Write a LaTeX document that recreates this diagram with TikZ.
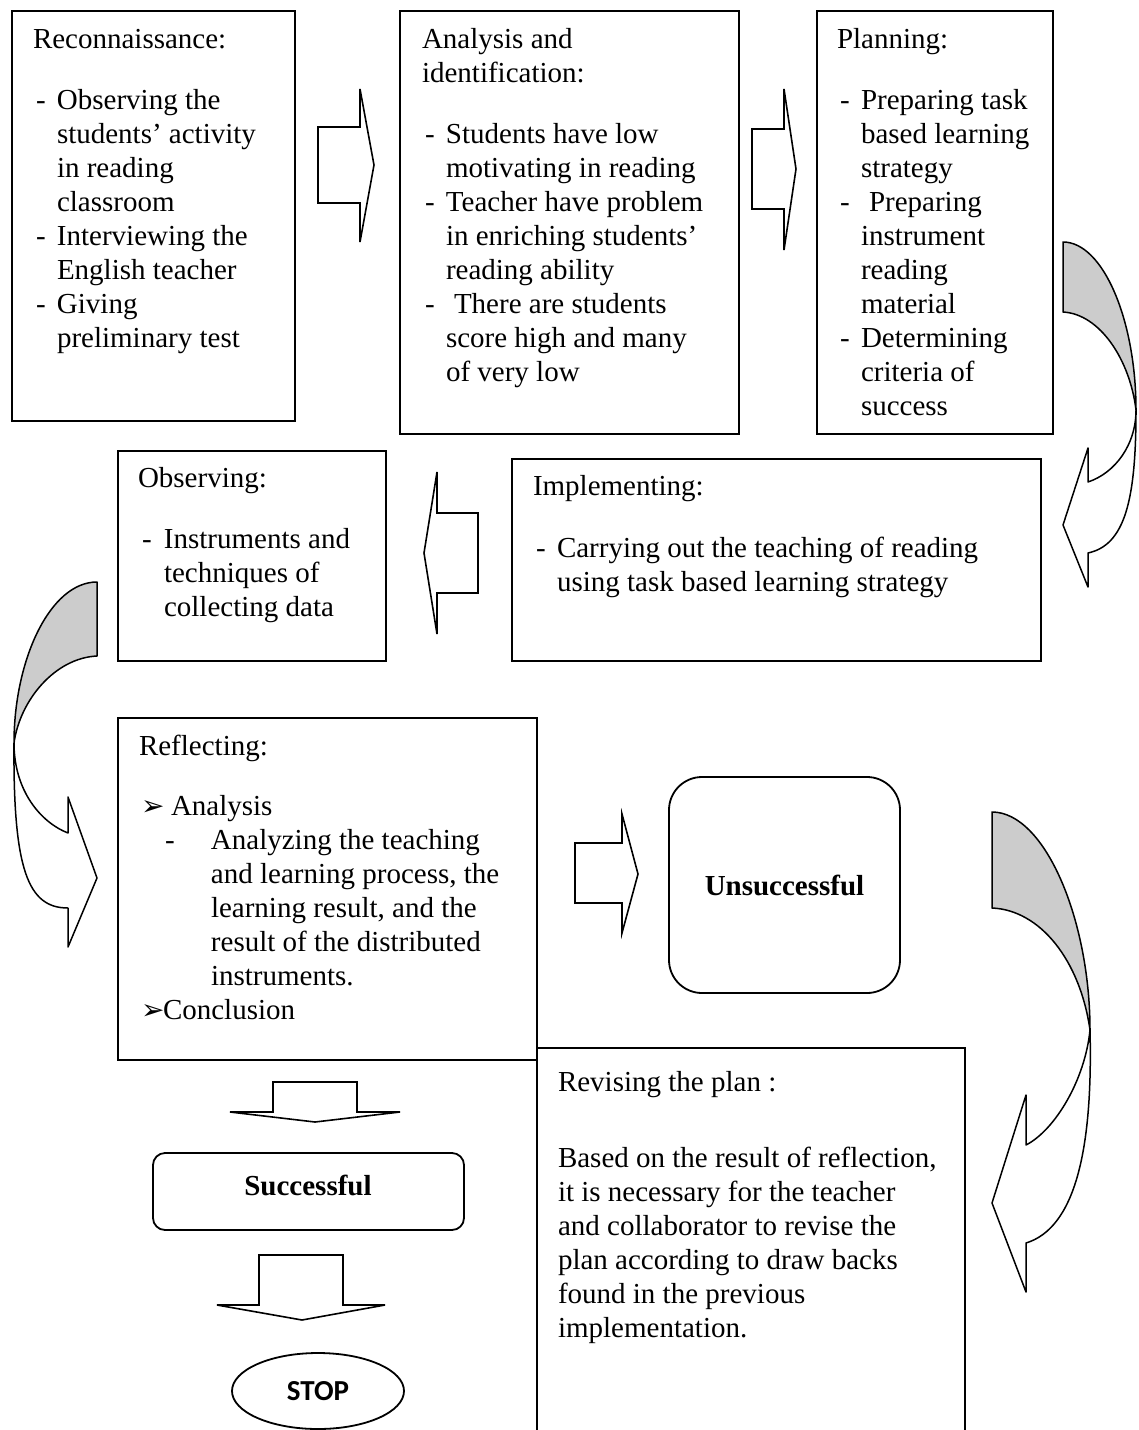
\documentclass[tikz,border=0pt]{standalone}
\usepackage{fontspec}
\setmainfont{Liberation Serif}
\newfontfamily\dejavu{DejaVu Sans}
\newfontfamily\carlito{Carlito}
\usetikzlibrary{shapes.geometric}
\definecolor{shadegray}{RGB}{204,204,204}
\newcommand{\dsh}{\makebox[12pt][l]{\hspace{1.5pt}-}}
\newcommand{\ind}{\hspace*{12pt}}
\newcommand{\arrbul}{{\fontsize{14}{14}\dejavu ➢}}
\newcommand{\boxtext}[2]{\parbox[t]{#1}{\fontsize{14.5}{17}\selectfont\lineskiplimit=-30pt\raggedright #2}}
\tikzset{
  box/.style={draw, line width=0.9pt, inner sep=0pt, outer sep=0pt, anchor=north west},
  txt/.style={anchor=base west, inner sep=0pt, outer sep=0pt},
  blk/.style={draw, line width=0.8pt, fill=white, line join=miter},
  curv/.style={draw, line width=0.75pt, line join=round},
  bold/.style={font=\fontsize{14.5}{17}\selectfont\bfseries}
}
\begin{document}
\begin{tikzpicture}[x=0.5pt,y=-0.5pt]
\useasboundingbox (0,0) rectangle (1139,1430);

% ---------- boxes ----------
\node[box, minimum width=141.5pt, minimum height=205pt] (recon) at (12,11) {};
\node[box, minimum width=169.5pt, minimum height=211.5pt] (anal) at (400,11) {};
\node[box, minimum width=118pt, minimum height=211.5pt] (plan) at (817,11) {};
\node[box, minimum width=134pt, minimum height=105pt] (obs) at (118,451) {};
\node[box, minimum width=264.5pt, minimum height=101pt] (impl) at (512,459) {};
\node[box, minimum width=209.5pt, minimum height=171pt] (refl) at (118,718) {};
\node[box, rounded corners=16.5pt, minimum width=115.5pt, minimum height=108pt, bold] (unsucc) at (669,777) {Unsuccessful};
\node[box, rounded corners=6pt, minimum width=155.5pt, minimum height=38.5pt] (succ) at (153,1153) {};
\node[txt, anchor=base, bold] (succt) at (308,1195) {Successful};
\node[draw, line width=0.9pt, ellipse, inner sep=0pt, minimum width=86pt, minimum height=38pt,
      font=\fontsize{14.5}{17}\selectfont\carlito\bfseries] (stop) at (318,1391) {STOP};
\node[box, minimum width=214pt, minimum height=192pt] (revise) at (537,1048) {};

% ---------- texts ----------
\node[txt] (recont) at (33,48) {\boxtext{135pt}{Reconnaissance:\\[13.5pt]
\dsh Observing the\\ \ind students’ activity\\ \ind in reading\\ \ind classroom\\
\dsh Interviewing the\\ \ind English teacher\\
\dsh Giving\\ \ind preliminary test}};

\node[txt] (analt) at (422,48) {\boxtext{160pt}{Analysis and\\ identification:\\[13.5pt]
\dsh Students have low\\ \ind motivating in reading\\
\dsh Teacher have problem\\ \ind in enriching students’\\ \ind reading ability\\
\dsh\hspace{4pt}There are students\\ \ind score high and many\\ \ind of very low}};

\node[txt] (plant) at (837,48) {\boxtext{110pt}{Planning:\\[13.5pt]
\dsh Preparing task\\ \ind based learning\\ \ind strategy\\
\dsh\hspace{4pt}Preparing\\ \ind instrument\\ \ind reading\\ \ind material\\
\dsh Determining\\ \ind criteria of\\ \ind success}};

\node[txt] (obst) at (138,487) {\boxtext{125pt}{Observing:\\[13.5pt]
\makebox[13pt][l]{\hspace{2pt}-}Instruments and\\ \hspace*{13pt}techniques of\\ \hspace*{13pt}collecting data}};

\node[txt] (implt) at (533,495) {\boxtext{250pt}{Implementing:\\[14pt]
\dsh Carrying out the teaching of reading\\ \ind using task based learning strategy}};

\node[txt] (reflt) at (139,755) {\boxtext{205pt}{Reflecting:\\[13pt]
\makebox[16pt][l]{\hspace{1pt}\arrbul}Analysis\\
\hspace*{13pt}\makebox[23pt][l]{-}Analyzing the teaching\\
\hspace*{36pt}and learning process, the\\
\hspace*{36pt}learning result, and the\\
\hspace*{36pt}result of the distributed\\
\hspace*{36pt}instruments.\\
\makebox[12pt][l]{\hspace{1pt}\arrbul}Conclusion}};

\node[txt] (revt) at (558,1091) {\boxtext{205pt}{Revising the plan :\\[21pt]
Based on the result of reflection,\\
it is necessary for the teacher\\
and collaborator to revise the\\
plan according to draw backs\\
found in the previous\\
implementation.}};

% ---------- block arrows ----------
\draw[blk] (318,127) -- (360,127) -- (360,89) -- (374,165) -- (360,242) -- (360,203) -- (318,203) -- cycle;
\draw[blk] (752,129) -- (784,129) -- (784,89) -- (796,169) -- (784,250) -- (784,209) -- (752,209) -- cycle;
\draw[blk] (478,513) -- (437,513) -- (437,472) -- (424,553) -- (437,634) -- (437,593) -- (478,593) -- cycle;
\draw[blk] (575,843) -- (622,843) -- (622,814) -- (638,874) -- (622,933) -- (622,903) -- (575,903) -- cycle;
\draw[blk] (273,1082) -- (273,1112) -- (230,1112) -- (315,1122) -- (400,1112) -- (357,1112) -- (357,1082) -- cycle;
\draw[blk] (259,1255) -- (259,1305) -- (217,1305) -- (302,1320) -- (385,1305) -- (343,1305) -- (343,1255) -- cycle;

% ---------- curved arrows ----------
% top right (Planning -> Implementing)
\filldraw[curv, fill=shadegray] (1063,242) .. controls (1103,242) and (1136,320) .. (1136,410)
   .. controls (1130,360) and (1100,314) .. (1063,312) -- cycle;
\filldraw[curv, fill=white] (1136,410) .. controls (1136,500) and (1125,545) .. (1088,553)
   -- (1088,587) -- (1063,525) -- (1088,448) -- (1088,482)
   .. controls (1115,473) and (1136,445) .. (1136,410) -- cycle;
% left (Observing -> Reflecting)
\filldraw[curv, fill=shadegray] (97,582) .. controls (50,582) and (14,660) .. (14,743)
   .. controls (20,700) and (55,658) .. (97,656) -- cycle;
\filldraw[curv, fill=white] (14,743) .. controls (13,870) and (28,908) .. (68,908)
   -- (68,947) -- (97,878) -- (68,797) -- (68,833)
   .. controls (40,822) and (14,790) .. (14,743) -- cycle;
% bottom right (Unsuccessful -> Revising)
\filldraw[curv, fill=shadegray] (992,812) .. controls (1045,812) and (1090,920) .. (1090,1030)
   .. controls (1080,960) and (1040,910) .. (992,908) -- cycle;
\filldraw[curv, fill=white] (1090,1030) .. controls (1093,1150) and (1075,1228) .. (1026,1243)
   -- (1026,1292) -- (992,1203) -- (1026,1095) -- (1026,1145)
   .. controls (1055,1130) and (1085,1080) .. (1090,1030) -- cycle;
\end{tikzpicture}
\end{document}
